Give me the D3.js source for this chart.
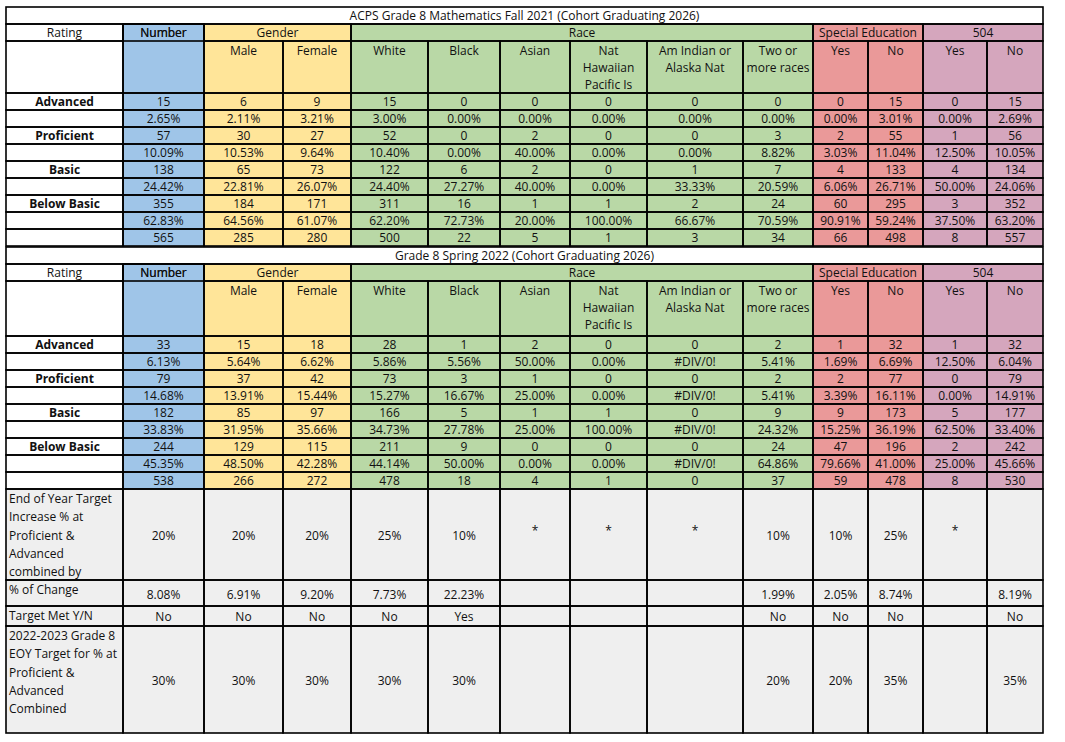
<!DOCTYPE html>
<html>
<head>
<meta charset="utf-8">
<script src="https://cdn.jsdelivr.net/npm/d3@7"></script>
<style>
  body { margin: 0; background: #fff; }
  text { font-family: "Open Sans", "Liberation Sans", sans-serif; font-size: 12px; fill: #111; }
</style>
</head>
<body>
<script>
// Column groups and sub-columns
const groups = [
    { name: "Number", span: 1, color: "#9fc5e8" },
    { name: "Gender", span: 2, color: "#ffe599" },
    { name: "Race", span: 6, color: "#b9d8a6" },
    { name: "Special Education", span: 2, color: "#ea9999" },
    { name: "504", span: 2, color: "#d5a6bd" },
];
const subHeaders = [
    [""], ["Male"], ["Female"], ["White"], ["Black"], ["Asian"],
    ["Nat", "Hawaiian", "Pacific Is"], ["Am Indian or", "Alaska Nat"], ["Two or", "more races"],
    ["Yes"], ["No"], ["Yes"], ["No"],
];
const ratingLabels = ["Advanced", "", "Proficient", "", "Basic", "", "Below Basic", "", ""];

// Fall 2021 values, one list per column (count, pct, ... , total)
const fallValues = [
    ["15", "2.65%", "57", "10.09%", "138", "24.42%", "355", "62.83%", "565"],
    ["6", "2.11%", "30", "10.53%", "65", "22.81%", "184", "64.56%", "285"],
    ["9", "3.21%", "27", "9.64%", "73", "26.07%", "171", "61.07%", "280"],
    ["15", "3.00%", "52", "10.40%", "122", "24.40%", "311", "62.20%", "500"],
    ["0", "0.00%", "0", "0.00%", "6", "27.27%", "16", "72.73%", "22"],
    ["0", "0.00%", "2", "40.00%", "2", "40.00%", "1", "20.00%", "5"],
    ["0", "0.00%", "0", "0.00%", "0", "0.00%", "1", "100.00%", "1"],
    ["0", "0.00%", "0", "0.00%", "1", "33.33%", "2", "66.67%", "3"],
    ["0", "0.00%", "3", "8.82%", "7", "20.59%", "24", "70.59%", "34"],
    ["0", "0.00%", "2", "3.03%", "4", "6.06%", "60", "90.91%", "66"],
    ["15", "3.01%", "55", "11.04%", "133", "26.71%", "295", "59.24%", "498"],
    ["0", "0.00%", "1", "12.50%", "4", "50.00%", "3", "37.50%", "8"],
    ["15", "2.69%", "56", "10.05%", "134", "24.06%", "352", "63.20%", "557"],
];
// Spring 2022 values
const springValues = [
    ["33", "6.13%", "79", "14.68%", "182", "33.83%", "244", "45.35%", "538"],
    ["15", "5.64%", "37", "13.91%", "85", "31.95%", "129", "48.50%", "266"],
    ["18", "6.62%", "42", "15.44%", "97", "35.66%", "115", "42.28%", "272"],
    ["28", "5.86%", "73", "15.27%", "166", "34.73%", "211", "44.14%", "478"],
    ["1", "5.56%", "3", "16.67%", "5", "27.78%", "9", "50.00%", "18"],
    ["2", "50.00%", "1", "25.00%", "1", "25.00%", "0", "0.00%", "4"],
    ["0", "0.00%", "0", "0.00%", "1", "100.00%", "0", "0.00%", "1"],
    ["0", "#DIV/0!", "0", "#DIV/0!", "0", "#DIV/0!", "0", "#DIV/0!", "0"],
    ["2", "5.41%", "2", "5.41%", "9", "24.32%", "24", "64.86%", "37"],
    ["1", "1.69%", "2", "3.39%", "9", "15.25%", "47", "79.66%", "59"],
    ["32", "6.69%", "77", "16.11%", "173", "36.19%", "196", "41.00%", "478"],
    ["1", "12.50%", "0", "0.00%", "5", "62.50%", "2", "25.00%", "8"],
    ["32", "6.04%", "79", "14.91%", "177", "33.40%", "242", "45.66%", "530"],
];

const targetLabel = ["End of Year Target", "Increase % at", "Proficient &", "Advanced", "combined  by"];
const targetValues = ["20%", "20%", "20%", "25%", "10%", "*", "*", "*", "10%", "10%", "25%", "*", ""];
const changeValues = ["8.08%", "6.91%", "9.20%", "7.73%", "22.23%", "", "", "", "1.99%", "2.05%", "8.74%", "", "8.19%"];
const metValues = ["No", "No", "No", "No", "Yes", "", "", "", "No", "No", "No", "", "No"];
const nextLabel = ["2022-2023 Grade 8", "EOY Target for % at", "Proficient &", "Advanced", "Combined"];
const nextValues = ["30%", "30%", "30%", "30%", "30%", "", "", "", "20%", "20%", "35%", "", "35%"];

const titles = ["ACPS Grade 8 Mathematics Fall 2021  (Cohort Graduating 2026)", "Grade 8 Spring 2022 (Cohort Graduating 2026)"];

// Layout
const edges = [6, 123, 204, 283, 351, 428, 500, 570, 647, 743, 813, 868, 923, 987, 1043];
const colColor = [];
groups.forEach((g) => { for (let i = 0; i < g.span; i++) colColor.push(g.color); });

const svg = d3.select("body").append("svg").attr("width", 1065).attr("height", 742);
const gFill = svg.append("g");
const gText = svg.append("g");
const gLine = svg.append("g");

const cell = (x0, x1, y0, y1, fill) => {
    gFill.append("rect").attr("x", x0).attr("y", y0).attr("width", x1 - x0).attr("height", y1 - y0).attr("fill", fill);
    gLine.append("rect").attr("x", x0).attr("y", y0).attr("width", x1 - x0).attr("height", y1 - y0)
        .attr("fill", "none").attr("stroke", "#000").attr("stroke-width", 1.6);
};
const label = (x, y, t, anchor = "middle", bold = false) => {
    gText.append("text").attr("x", x).attr("y", y).attr("text-anchor", anchor)
        .attr("font-weight", bold ? "bold" : null).text(t);
};
const mid = (i) => (edges[i + 1] + edges[i + 2]) / 2;

const drawSection = (top, title, values) => {
    const L = edges[0], R = edges[edges.length - 1];
    cell(L, R, top, top + 17, "#fff");
    label((L + R) / 2, top + 13, title);
    const hy = top + 17, sy = top + 34;
    const dy = top === 7 ? 93 : 336;
    cell(edges[0], edges[1], hy, sy, "#fff");
    label((edges[0] + edges[1]) / 2, hy + 13, "Rating");
    cell(edges[0], edges[1], sy, dy, "#fff");
    let c = 0;
    groups.forEach((g) => {
        const x0 = edges[c + 1], x1 = edges[c + 1 + g.span];
        cell(x0, x1, hy, sy, g.color);
        label((x0 + x1) / 2, hy + 13, g.name);
        c += g.span;
    });
    subHeaders.forEach((lines, i) => {
        cell(edges[i + 1], edges[i + 2], i === 0 ? hy : sy, dy, colColor[i]);
        if (i === 0) label(mid(0), hy + 13, "Number");
        lines.forEach((t, k) => label(mid(i), sy + 14 + k * 17, t));
    });
    const rowY = d3.range(10).map((k) => dy + k * 17);
    ratingLabels.forEach((t, r) => {
        cell(edges[0], edges[1], rowY[r], rowY[r + 1], "#fff");
        if (t) label((edges[0] + edges[1]) / 2, rowY[r] + 13, t, "middle", true);
        values.forEach((col, i) => {
            cell(edges[i + 1], edges[i + 2], rowY[r], rowY[r + 1], colColor[i]);
            label(mid(i), rowY[r] + 13, col[r]);
        });
    });
};

drawSection(7, titles[0], fallValues);
drawSection(247, titles[1], springValues);

// Target rows
const grey = "#efefef";
const tRows = [
    { y0: 489, y1: 580, lab: targetLabel, vals: targetValues, vy: 540 },
    { y0: 580, y1: 606, lab: ["% of Change"], vals: changeValues, vy: 599 },
    { y0: 606, y1: 626, lab: ["Target Met  Y/N"], vals: metValues, vy: 621 },
    { y0: 626, y1: 733, lab: nextLabel, vals: nextValues, vy: 685 },
];
tRows.forEach((row) => {
    cell(edges[0], edges[1], row.y0, row.y1, grey);
    row.lab.forEach((t, k) => label(edges[0] + 3, row.y0 + 14 + k * 18.3, t, "start"));
    row.vals.forEach((v, i) => {
        cell(edges[i + 1], edges[i + 2], row.y0, row.y1, grey);
        label(mid(i), v === "*" ? row.vy - 5 : row.vy, v);
    });
});
</script>
</body>
</html>
